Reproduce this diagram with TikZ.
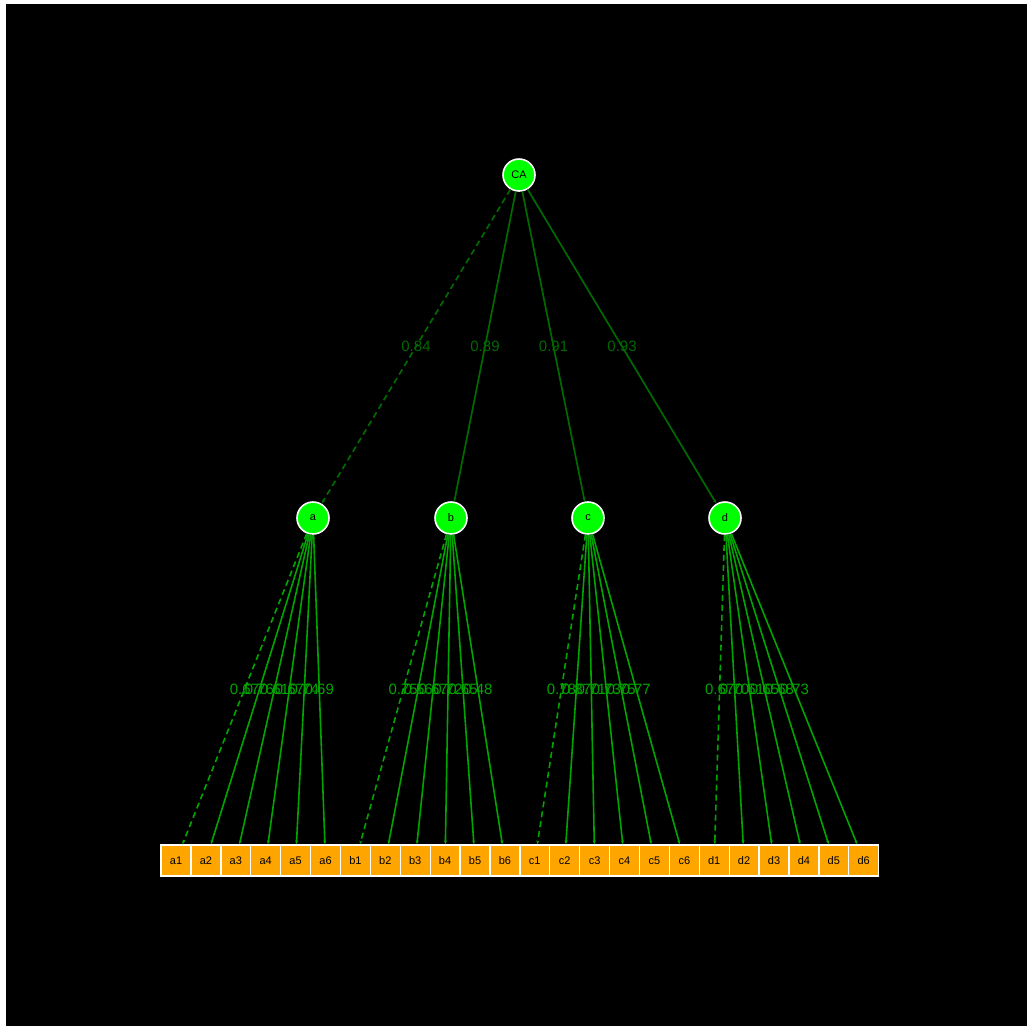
\documentclass[tikz,border=0pt]{standalone}
\usepackage{fontspec}
\setmainfont{Liberation Sans}
\usetikzlibrary{arrows.meta}

\definecolor{latgreen}{RGB}{0,255,0}
\definecolor{boxorange}{RGB}{255,165,0}
\definecolor{topgreen}{RGB}{0,105,0}
\definecolor{lowgreen}{RGB}{0,165,0}

\begin{document}
\begin{tikzpicture}[x=1pt, y=-1pt,
    latent/.style={circle, draw=white, line width=1.6pt, fill=latgreen, minimum size=32pt, inner sep=0pt, font=\fontsize{11}{11}\selectfont},
    indicator/.style={rectangle, draw=white, line width=1.3pt, fill=boxorange, minimum width=29.9pt, minimum height=31pt, inner sep=0pt, font=\fontsize{11}{11}\selectfont},
    loading/.style={inner sep=0pt, font=\fontsize{15}{15}\selectfont},
    topline/.style={draw=topgreen, line width=1.7pt, -{Stealth[length=4pt, width=3pt]}},
    lowline/.style={draw=lowgreen, line width=1.6pt, -{Stealth[length=4pt, width=3pt]}},
    dashline/.style={dash pattern=on 6pt off 4pt}
]
    % background
    \fill[white] (0,0) rectangle (1027,1026);
    \fill[black] (6,4) rectangle (1027,1026);

    % latent variables
    \node[latent] (CA) at (519,175) {CA};
    \node[latent] (a) at (313,518) {a};
    \node[latent] (b) at (451,518) {b};
    \node[latent] (c) at (588,518) {c};
    \node[latent] (d) at (725,518) {d};

    % indicators
    \foreach \f [count=\j from 0] in {a,b,c,d} {
        \foreach \i in {1,...,6} {
            \node[indicator] (\f\i) at ({176+29.9*(6*\j+\i-1)},860.5) {\f\i};
        }
    }

    % second order loadings
    \foreach \f/\v/\s in {a/0.84/dashline, b/0.89/solid, c/0.91/solid, d/0.93/solid} {
        \draw[topline, \s] (CA) -- (\f);
        \path (CA.center) -- node[loading, text=topgreen] {\v} (\f.center);
    }

    % first order loadings
    \foreach \f/\i/\v in {a/1/0.67, a/2/0.76, a/3/0.61, a/4/0.67, a/5/0.74, a/6/0.69,
                          b/1/0.75, b/2/0.56, b/3/0.67, b/4/0.72, b/5/0.65, b/6/0.48,
                          c/1/0.78, c/2/0.87, c/3/0.71, c/4/0.73, c/5/0.75, c/6/0.77,
                          d/1/0.67, d/2/0.70, d/3/0.61, d/4/0.65, d/5/0.68, d/6/0.73} {
        \ifnum\i=1 \def\lsty{dashline}\else\def\lsty{solid}\fi
        \draw[lowline, \lsty] (\f) -- (\f\i);
        \path (\f.center) -- node[loading, text=lowgreen] {\v} (\f\i.center);
    }
\end{tikzpicture}
\end{document}
